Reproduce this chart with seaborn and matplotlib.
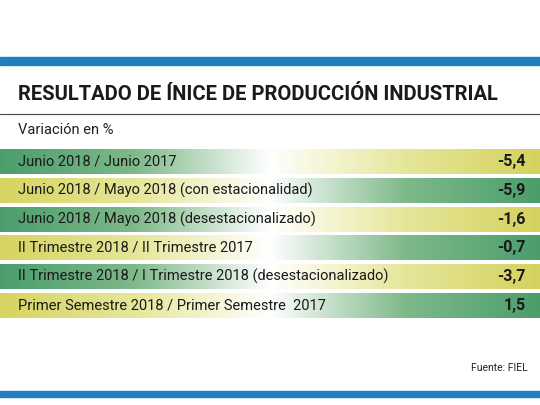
import numpy as np
import matplotlib
matplotlib.use("Agg")
import matplotlib.pyplot as plt
import seaborn as sns
from matplotlib.colors import LinearSegmentedColormap

labels = ["Junio 2018 / Junio 2017",
          "Junio 2018 / Mayo 2018 (con estacionalidad)",
          "Junio 2018 / Mayo 2018 (desestacionalizado)",
          "II Trimestre 2018 / II Trimestre 2017",
          "II Trimestre 2018 / I Trimestre 2018 (desestacionalizado)",
          "Primer Semestre 2018 / Primer Semestre  2017"]
values = ["-5,4", "-5,9", "-1,6", "-0,7", "-3,7", "1,5"]
title = "RESULTADO DE ÍNICE DE PRODUCCIÓN INDUSTRIAL"
subtitle = "Variación en %"
source = "Fuente: FIEL"

sns.set_theme(style="white")
plt.rcParams["font.family"] = ["Roboto", "DejaVu Sans"]

fig = plt.figure(figsize=(5.4, 4.05), dpi=100)
ax = fig.add_axes([0, 0, 1, 1])
ax.set_xlim(0, 540); ax.set_ylim(405, 0); ax.axis("off")

blue = "#1f7fc0"
ax.add_patch(plt.Rectangle((0, 57), 540, 8, color=blue))
ax.add_patch(plt.Rectangle((0, 391), 540, 6, color=blue))
ax.plot([0, 540], [114, 114], color="#444444", lw=0.8)

ax.text(18, 94, title, fontsize=14.5, fontweight="bold", color="#1a1a1a", va="center", ha="left")
ax.text(18, 130, subtitle, fontsize=10.5, color="#222222", va="center")

cmapA = LinearSegmentedColormap.from_list("a", ["#4b9e6c", "#7fb98a", "#ffffff", "#e6e69a", "#d4d25e"])
cmapB = LinearSegmentedColormap.from_list("b", ["#d6d460", "#e6e69a", "#ffffff", "#7fb98a", "#4b9e6c"])
grad = np.linspace(0, 1, 256).reshape(1, -1)
top0, step, h = 149, 28.8, 25
for i, (lab, val) in enumerate(zip(labels, values)):
    y0 = top0 + i * step
    ax.imshow(grad, cmap=cmapA if i % 2 == 0 else cmapB, aspect="auto",
              extent=(0, 540, y0 + h, y0), interpolation="bicubic")
    ax.text(18, y0 + h / 2, lab, fontsize=10.5, color="#1a1a1a", va="center")
    ax.text(526, y0 + h / 2, val, fontsize=11.5, fontweight="bold", color="#1a1a1a", va="center", ha="right")
ax.set_xlim(0, 540); ax.set_ylim(405, 0)

ax.text(528, 368, source, fontsize=7.5, color="#222222", va="center", ha="right")
fig.savefig("out.png", dpi=100)
